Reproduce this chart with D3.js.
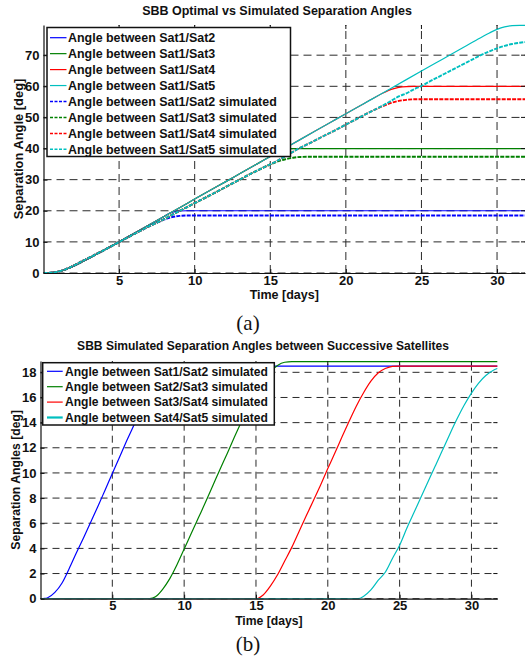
<!DOCTYPE html>
<html>
<head>
<meta charset="utf-8">
<script src="https://cdn.jsdelivr.net/npm/d3@7/dist/d3.min.js"></script>
<style>
  html, body { margin: 0; padding: 0; background: #fff; }
  svg { display: block; }
  text { font-family: "Liberation Sans", Arial, sans-serif; font-weight: bold; fill: #111; }
  .caption { font-family: "Liberation Serif", "Times New Roman", serif; font-weight: normal; }
</style>
</head>
<body>
<svg id="fig" width="529" height="661"></svg>
<script>
// ---- Panel (a): optimal vs simulated separation angles from Sat1 ----
const optimalLabels = [
  "Angle between Sat1/Sat2", "Angle between Sat1/Sat3",
  "Angle between Sat1/Sat4", "Angle between Sat1/Sat5"
];
const simulatedLabels = [
  "Angle between Sat1/Sat2 simulated", "Angle between Sat1/Sat3 simulated",
  "Angle between Sat1/Sat4 simulated", "Angle between Sat1/Sat5 simulated"
];
const seriesColors = ["#0000ff", "#008000", "#ff0000", "#00bfbf"];

// [day, deg]
const opt12 = [[0,0],[0.5,0.12],[1,0.5],[1.5,1.2],[2,2.2],[2.5,3.4],[3,4.7],[3.5,6.0],[4,7.3],[4.5,8.65],[5,10.0],[6,12.75],[7,15.5],[8,18.25],[8.3,19.1],[8.6,19.65],[9,19.93],[9.5,20],[31.85,20]];
const opt13 = [[0,0],[0.5,0.12],[1,0.5],[1.5,1.2],[2,2.2],[2.5,3.4],[3,4.7],[3.5,6.0],[4,7.3],[4.5,8.65],[5,10.0],[6,12.75],[7,15.5],[8,18.25],[9,21.0],[10,23.75],[11,26.5],[12,29.2],[13,31.95],[14,34.7],[15,37.45],[15.3,38.2],[15.7,39.25],[16.1,39.8],[16.6,39.97],[17.2,40],[31.85,40]];
const opt14 = [[0,0],[0.5,0.12],[1,0.5],[1.5,1.2],[2,2.2],[2.5,3.4],[3,4.7],[3.5,6.0],[4,7.3],[4.5,8.65],[5,10.0],[6,12.75],[7,15.5],[8,18.25],[9,21.0],[10,23.75],[11,26.5],[12,29.2],[13,31.95],[14,34.7],[15,37.45],[16,40.2],[17,42.95],[18,45.7],[19,48.45],[20,51.2],[21,53.9],[22,56.65],[22.5,57.9],[23,59.0],[23.5,59.65],[24,59.92],[24.5,60],[31.85,60]];
const opt15 = [[0,0],[0.5,0.12],[1,0.5],[1.5,1.2],[2,2.2],[2.5,3.4],[3,4.7],[3.5,6.0],[4,7.3],[4.5,8.65],[5,10.0],[6,12.75],[7,15.5],[8,18.25],[9,21.0],[10,23.75],[11,26.5],[12,29.2],[13,31.95],[14,34.7],[15,37.45],[16,40.2],[17,42.95],[18,45.7],[19,48.45],[20,51.2],[21,53.9],[22,56.65],[23,59.4],[24,62.15],[25,64.9],[26,67.65],[27,70.4],[28,73.1],[29,75.85],[29.5,77.15],[30,78.3],[30.5,79.1],[31,79.5],[31.5,79.6],[31.85,79.6]];

const sim12 = [[0,0],[0.5,0.08],[1,0.5],[1.5,1.25],[2,2.4],[2.5,3.65],[3,4.85],[3.5,6.1],[4,7.35],[4.5,8.65],[5,9.95],[5.5,11.25],[6,12.55],[6.5,13.8],[7,15.05],[7.5,16.2],[8,17.2],[8.5,17.95],[9,18.35],[9.5,18.48],[10,18.5],[31.85,18.5]];
const sim13 = [[0,0],[0.5,0.08],[1,0.5],[1.5,1.25],[2,2.4],[2.5,3.65],[3,4.85],[3.5,6.1],[4,7.35],[4.5,8.65],[5,9.95],[5.5,11.25],[6,12.55],[6.5,13.8],[7,15.05],[7.5,16.2],[8,17.35],[8.5,18.7],[9,19.95],[9.5,21.18],[10,22.45],[10.5,23.7],[11,24.95],[11.5,26.2],[12,27.5],[12.5,28.8],[13,30.05],[13.5,31.35],[14,32.6],[14.5,33.8],[15,34.9],[15.5,35.85],[16,36.55],[16.5,37.05],[17,37.3],[17.5,37.35],[31.85,37.35]];
const sim14 = [[0,0],[0.5,0.08],[1,0.5],[1.5,1.25],[2,2.4],[2.5,3.65],[3,4.85],[3.5,6.1],[4,7.35],[4.5,8.65],[5,9.95],[5.5,11.25],[6,12.55],[6.5,13.8],[7,15.05],[7.5,16.2],[8,17.35],[8.5,18.7],[9,19.95],[9.5,21.18],[10,22.45],[10.5,23.7],[11,24.95],[11.5,26.2],[12,27.5],[12.5,28.8],[13,30.05],[13.5,31.35],[14,32.6],[14.5,33.8],[15,34.9],[15.5,36.15],[16,37.55],[16.5,38.95],[17,40.3],[17.5,41.45],[18,42.7],[18.5,43.95],[19,45.15],[19.5,46.4],[20,47.7],[20.5,48.95],[21,50.25],[21.5,51.5],[22,52.7],[22.5,53.75],[23,54.65],[23.5,55.3],[24,55.65],[24.5,55.83],[25,55.85],[31.85,55.85]];
const sim15 = [[0,0],[0.5,0.08],[1,0.5],[1.5,1.25],[2,2.4],[2.5,3.65],[3,4.85],[3.5,6.1],[4,7.35],[4.5,8.65],[5,9.95],[5.5,11.25],[6,12.55],[6.5,13.8],[7,15.05],[7.5,16.2],[8,17.35],[8.5,18.7],[9,19.95],[9.5,21.18],[10,22.45],[10.5,23.7],[11,24.95],[11.5,26.2],[12,27.5],[12.5,28.8],[13,30.05],[13.5,31.35],[14,32.6],[14.5,33.8],[15,34.9],[15.5,36.15],[16,37.55],[16.5,38.95],[17,40.3],[17.5,41.45],[18,42.7],[18.5,43.95],[19,45.15],[19.5,46.4],[20,47.7],[20.5,48.95],[21,50.25],[21.5,51.5],[22,52.7],[22.5,53.95],[23,55.35],[23.5,56.75],[24,57.75],[24.5,59.03],[25,60.1],[25.5,61.45],[26,62.7],[26.5,63.95],[27,65.2],[27.5,66.45],[28,67.7],[28.5,68.95],[29,70.15],[29.5,71.25],[30,72.2],[30.5,73.0],[31,73.6],[31.5,74.0],[31.85,74.2]];

const topXTicks = [5, 10, 15, 20, 25, 30];
const topYTicks = [0, 10, 20, 30, 40, 50, 60, 70];

// ---- Panel (b): separation angles between successive satellites ----
const successiveLabels = [
  "Angle between Sat1/Sat2 simulated", "Angle between Sat2/Sat3 simulated",
  "Angle between Sat3/Sat4 simulated", "Angle between Sat4/Sat5 simulated"
];
const succ12 = [[0,0],[0.3,0.02],[0.5,0.08],[1,0.5],[1.5,1.25],[2,2.4],[2.5,3.65],[3,4.85],[3.5,6.1],[4,7.35],[4.5,8.65],[5,9.95],[5.5,11.25],[6,12.55],[6.5,13.8],[7,15.05],[7.5,16.2],[8,17.2],[8.5,17.95],[9,18.35],[9.5,18.48],[10,18.5],[31.8,18.5]];
const succ23 = [[0,0],[7.6,0],[8,0.15],[8.5,0.75],[9,1.6],[9.5,2.7],[10,3.95],[10.5,5.2],[11,6.45],[11.5,7.7],[12,9.0],[12.5,10.3],[13,11.55],[13.5,12.85],[14,14.1],[14.5,15.3],[15,16.4],[15.5,17.35],[16,18.05],[16.5,18.55],[17,18.8],[17.5,18.85],[31.8,18.85]];
const succ34 = [[0,0],[15,0],[15.5,0.3],[16,1.0],[16.5,1.9],[17,3.0],[17.5,4.1],[18,5.35],[18.5,6.6],[19,7.8],[19.5,9.05],[20,10.35],[20.5,11.6],[21,12.9],[21.5,14.15],[22,15.35],[22.5,16.4],[23,17.3],[23.5,17.95],[24,18.3],[24.5,18.48],[25,18.5],[31.8,18.5]];
const succ45 = [[0,0],[22.1,0],[22.5,0.2],[23,0.7],[23.5,1.45],[24,2.1],[24.5,3.2],[25,4.25],[25.5,5.6],[26,6.85],[26.5,8.1],[27,9.35],[27.5,10.6],[28,11.85],[28.5,13.1],[29,14.3],[29.5,15.4],[30,16.35],[30.5,17.15],[31,17.75],[31.5,18.15],[31.8,18.3]];

const botXTicks = [5, 10, 15, 20, 25, 30];
const botYTicks = [0, 2, 4, 6, 8, 10, 12, 14, 16, 18];

const svg = d3.select("#fig");

function drawPanel(cfg) {
  const x = d3.scaleLinear().domain(cfg.xDomain).range([cfg.left, cfg.right]);
  const y = d3.scaleLinear().domain(cfg.yDomain).range([cfg.bottom, cfg.top]);
  const g = svg.append("g");
  const clipId = "clip-" + cfg.id;
  g.append("clipPath").attr("id", clipId).append("rect")
    .attr("x", cfg.left).attr("y", cfg.top - 1)
    .attr("width", cfg.right - cfg.left + 1).attr("height", cfg.bottom - cfg.top + 1);

  // dashed grid
  const grid = g.append("g").attr("stroke", "#2a2a2a").attr("stroke-width", 1)
    .attr("stroke-dasharray", cfg.gridDash).attr("fill", "none");
  cfg.xTicks.forEach(t => grid.append("line")
    .attr("x1", x(t)).attr("x2", x(t)).attr("y1", cfg.bottom).attr("y2", cfg.top));
  cfg.yTicks.forEach(t => grid.append("line")
    .attr("y1", y(t)).attr("y2", y(t)).attr("x1", cfg.left).attr("x2", cfg.right));

  // data lines
  const line = d3.line().x(d => x(d[0])).y(d => y(d[1])).curve(d3.curveMonotoneX);
  const lines = g.append("g").attr("clip-path", `url(#${clipId})`);
  cfg.series.forEach(s => {
    lines.append("path").datum(s.data)
      .attr("fill", "none").attr("stroke", s.color)
      .attr("stroke-width", s.width)
      .attr("stroke-dasharray", s.dash || null)
      .attr("d", line);
  });

  // axes with inward ticks
  const ax = g.append("g").attr("transform", `translate(0,${cfg.bottom})`)
    .call(d3.axisBottom(x).tickValues(cfg.xTicks).tickSizeInner(-4).tickSizeOuter(0).tickPadding(cfg.xPad));
  const ay = g.append("g").attr("transform", `translate(${cfg.left},0)`)
    .call(d3.axisLeft(y).tickValues(cfg.yTicks).tickSizeInner(-4).tickSizeOuter(0).tickPadding(4));
  [ax, ay].forEach(a => {
    a.selectAll("text").style("font-size", "13px").style("font-family", '"Liberation Sans", Arial, sans-serif')
      .style("font-weight", "bold").attr("fill", "#111");
    a.selectAll("line").attr("stroke", "#111");
    a.select(".domain").attr("stroke", "#111").attr("stroke-width", 1.2);
  });
  // mirrored ticks on top and right
  const mt = g.append("g").attr("stroke", "#111");
  cfg.xTicks.forEach(t => mt.append("line")
    .attr("x1", x(t)).attr("x2", x(t)).attr("y1", cfg.top).attr("y2", cfg.top + 4));
  cfg.yTicks.forEach(t => mt.append("line")
    .attr("y1", y(t)).attr("y2", y(t)).attr("x1", cfg.right - 4).attr("x2", cfg.right));

  // title and axis labels
  g.append("text").attr("x", cfg.titleX).attr("y", cfg.titleY).attr("text-anchor", "middle")
    .style("font-size", cfg.titleSize + "px").text(cfg.title);
  g.append("text").attr("x", (cfg.left + cfg.right) / 2).attr("y", cfg.xLabelY).attr("text-anchor", "middle")
    .style("font-size", cfg.xLabelSize + "px").text("Time [days]");
  g.append("text").attr("transform", `translate(${cfg.yLabelX},${(cfg.top + cfg.bottom) / 2}) rotate(-90)`)
    .attr("text-anchor", "middle").style("font-size", cfg.yLabelSize + "px").text(cfg.yLabel);

  // legend
  const lg = g.append("g");
  lg.append("rect").attr("x", cfg.legend.x).attr("y", cfg.legend.y)
    .attr("width", cfg.legend.w).attr("height", cfg.legend.h)
    .attr("fill", "#fff").attr("stroke", "#111").attr("stroke-width", 1.5);
  cfg.series.forEach((s, i) => {
    const cy = cfg.legend.firstY + i * cfg.legend.step;
    lg.append("line").attr("x1", cfg.legend.lineX1).attr("x2", cfg.legend.lineX2)
      .attr("y1", cy).attr("y2", cy).attr("stroke", s.color)
      .attr("stroke-width", s.legendWidth || 1.2)
      .attr("stroke-dasharray", s.legendDash || null);
    lg.append("text").attr("x", cfg.legend.textX).attr("y", cy).attr("dy", "0.36em")
      .style("font-size", cfg.legend.fontSize + "px").text(s.label);
  });
}

const topSeries = [opt12, opt13, opt14, opt15].map((d, i) => ({
  data: d, color: seriesColors[i], width: 1.2, label: optimalLabels[i]
})).concat([sim12, sim13, sim14, sim15].map((d, i) => ({
  data: d, color: seriesColors[i], width: 1.9, dash: "4,1.2",
  legendDash: "3,1.5", legendWidth: 1.5, label: simulatedLabels[i]
})));

drawPanel({
  id: "a", left: 43.5, right: 525, top: 25, bottom: 273,
  xDomain: [0, 31.85], yDomain: [0, 79.7],
  xTicks: topXTicks, yTicks: topYTicks, xPad: 3, gridDash: "8,5",
  series: topSeries,
  title: "SBB Optimal vs Simulated Separation Angles", titleX: 277, titleY: 15, titleSize: 12.5,
  xLabelY: 299, xLabelSize: 12.5,
  yLabel: "Separation Angle [deg]", yLabelX: 23, yLabelSize: 12.9,
  legend: { x: 47, y: 27.5, w: 243.5, h: 129, firstY: 37.7, step: 15.95,
            lineX1: 50, lineX2: 66.5, textX: 68, fontSize: 12.45 }
});

const botSeries = [succ12, succ23, succ34, succ45].map((d, i) => ({
  data: d, color: seriesColors[i], width: 1.2, label: successiveLabels[i],
  legendWidth: i === 3 ? 2.2 : 1.2
}));

drawPanel({
  id: "b", left: 40.5, right: 497.3, top: 361, bottom: 598.7,
  xDomain: [0, 31.8], yDomain: [0, 18.9],
  xTicks: botXTicks, yTicks: botYTicks, xPad: 2, gridDash: "7,5",
  series: botSeries,
  title: "SBB Simulated Separation Angles between Successive Satellites", titleX: 263, titleY: 350, titleSize: 12.05,
  xLabelY: 624.5, xLabelSize: 12.2,
  yLabel: "Separation Angles [deg]", yLabelX: 20, yLabelSize: 12.2,
  legend: { x: 42.7, y: 362.7, w: 231.6, h: 62.3, firstY: 371.3, step: 15.4,
            lineX1: 47, lineX2: 62.7, textX: 65, fontSize: 12.1 }
});

// panel captions
svg.append("text").attr("class", "caption").attr("x", 248).attr("y", 330)
  .attr("text-anchor", "middle").style("font-size", "21px").text("(a)");
svg.append("text").attr("class", "caption").attr("x", 248).attr("y", 651)
  .attr("text-anchor", "middle").style("font-size", "21px").text("(b)");
</script>
</body>
</html>
